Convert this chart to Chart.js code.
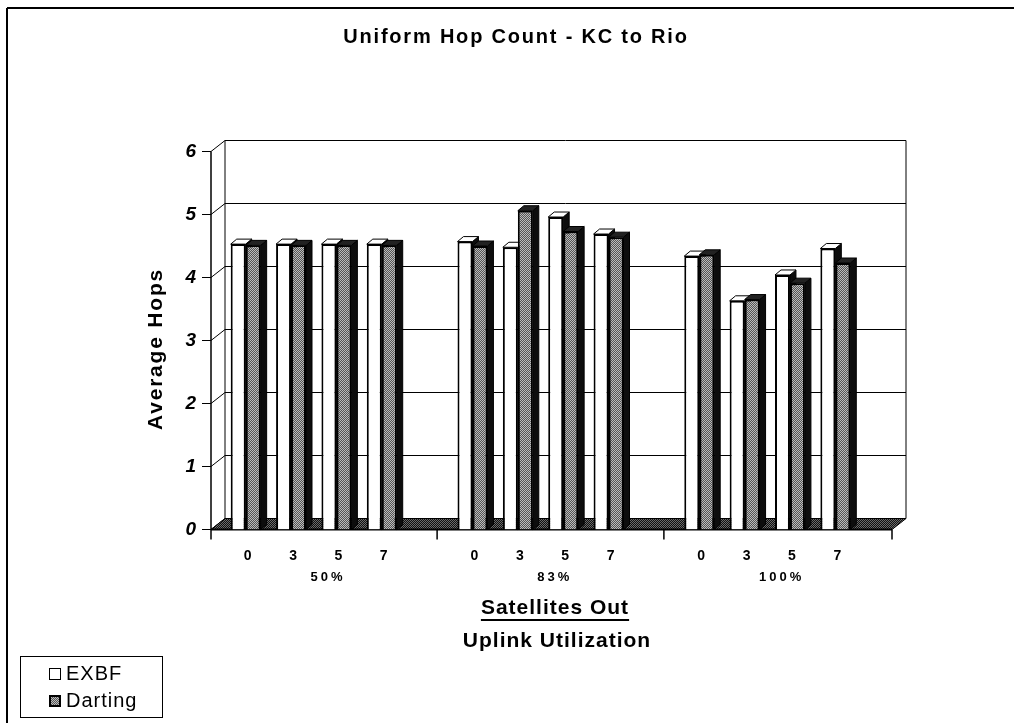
<!DOCTYPE html>
<html lang="en">
<head>
    <meta charset="UTF-8">
    <title>Uniform Hop Count - KC to Rio</title>
    <script src="https://cdn.jsdelivr.net/npm/chart.js"></script>
    <style>
        body { margin: 0; background: #fff; }
    </style>
</head>
<body>
    <canvas id="myChart" width="1014" height="723"></canvas>

    <script>
        // Satellites out, one blank slot between the utilization groups
        var categories = ['0', '3', '5', '7', '', '0', '3', '5', '7', '', '0', '3', '5', '7'];
        var groups = ['50%', '83%', '100%'];
        var exbf = [4.53, 4.53, 4.53, 4.53, null, 4.57, 4.48, 4.96, 4.69, null, 4.34, 3.63, 4.04, 4.46];
        var darting = [4.51, 4.51, 4.51, 4.51, null, 4.50, 5.06, 4.73, 4.64, null, 4.36, 3.65, 3.91, 4.23];
        var yTicks = [0, 1, 2, 3, 4, 5, 6];

        var FONT = '"Liberation Sans", Arial, sans-serif';

        // stipple fills like the scanned print
        function stipple(a, b) {
            var c = document.createElement('canvas');
            c.width = 2; c.height = 2;
            var g = c.getContext('2d');
            g.fillStyle = a; g.fillRect(0, 0, 2, 2);
            g.fillStyle = b; g.fillRect(0, 0, 1, 1); g.fillRect(1, 1, 1, 1);
            return g.createPattern(c, 'repeat');
        }
        var dartFill = stipple('#555555', '#bbbbbb');
        var floorFill = stipple('#111111', '#6a6a6a');

        function line(ctx, x1, y1, x2, y2) {
            ctx.beginPath(); ctx.moveTo(x1, y1); ctx.lineTo(x2, y2); ctx.stroke();
        }
        function poly(ctx, pts, fill, stroke) {
            ctx.beginPath();
            ctx.moveTo(pts[0][0], pts[0][1]);
            for (var i = 1; i < pts.length; i++) ctx.lineTo(pts[i][0], pts[i][1]);
            ctx.closePath();
            if (fill) { ctx.fillStyle = fill; ctx.fill(); }
            if (stroke) { ctx.strokeStyle = stroke; ctx.stroke(); }
        }

        // fake 3-D box: back wall, floor, gridlines and bar tops/sides
        var box3d = {
            id: 'box3d',
            beforeDatasetsDraw: function (chart) {
                var ctx = chart.ctx, a = chart.chartArea, x = chart.scales.x, y = chart.scales.y;
                var L = a.left - 12, R = a.right + 34;
                var B = y.getPixelForValue(0), T = y.getPixelForValue(6);
                var dx = 14, dy = -11;
                ctx.save();
                ctx.strokeStyle = '#000';
                ctx.lineWidth = 1;
                yTicks.forEach(function (v) {
                    var py = y.getPixelForValue(v);
                    line(ctx, L, py, L + dx, py + dy);
                    line(ctx, L + dx, py + dy, R + dx, py + dy);
                    line(ctx, L - 9, py, L, py);
                });
                line(ctx, L + dx, T + dy, L + dx, B + dy);
                line(ctx, R + dx, T + dy, R + dx, B + dy);
                ctx.lineWidth = 1.5;
                line(ctx, L, T, L, B);

                // floor
                ctx.lineWidth = 1;
                poly(ctx, [[L, B], [R, B], [R + dx, B + dy], [L + dx, B + dy]], floorFill, '#000');
                ctx.lineWidth = 2;
                line(ctx, L, B, R, B);
                ctx.lineWidth = 1.5;
                var ticksX = [L, x.getPixelForValue(4) + 10, x.getPixelForValue(9) + 10, R];
                ticksX.forEach(function (px) { line(ctx, px, B, px, B + 10); });

                // bar tops and right sides
                var bdx = 6, bdy = -5;
                ctx.lineWidth = 1;
                chart.data.datasets.forEach(function (ds, i) {
                    var meta = chart.getDatasetMeta(i);
                    meta.data.forEach(function (bar, j) {
                        if (ds.data[j] == null) return;
                        var l = bar.x - bar.width / 2, r = bar.x + bar.width / 2, t = bar.y;
                        poly(ctx, [[r, t], [r + bdx, t + bdy], [r + bdx, B + bdy], [r, B]], '#0d0d0d', '#000');
                        poly(ctx, [[l, t], [l + bdx, t + bdy], [r + bdx, t + bdy], [r, t]],
                            i === 0 ? '#fff' : '#222', '#000');
                    });
                });
                ctx.restore();
            },
            afterDraw: function (chart) {
                var ctx = chart.ctx, x = chart.scales.x, y = chart.scales.y;
                ctx.save();
                ctx.fillStyle = '#000';
                ctx.textBaseline = 'middle';

                // title
                ctx.textAlign = 'center';
                ctx.font = 'bold 20px ' + FONT;
                ctx.letterSpacing = '1.8px';
                ctx.fillText('Uniform Hop Count - KC to Rio', 516, 37);

                // y tick labels
                ctx.textAlign = 'right';
                ctx.font = 'italic bold 19px ' + FONT;
                ctx.letterSpacing = '0px';
                yTicks.forEach(function (v) {
                    ctx.fillText(String(v), 196, y.getPixelForValue(v));
                });

                // y title
                ctx.save();
                ctx.translate(156, 349);
                ctx.rotate(-Math.PI / 2);
                ctx.textAlign = 'center';
                ctx.font = 'bold 21px ' + FONT;
                ctx.letterSpacing = '1.8px';
                ctx.fillText('Average Hops', 0, 0);
                ctx.restore();

                // x category labels
                ctx.textAlign = 'center';
                ctx.font = 'bold 14px ' + FONT;
                ctx.letterSpacing = '0px';
                categories.forEach(function (c, j) {
                    if (c) ctx.fillText(c, x.getPixelForValue(j) + 2, 556);
                });
                ctx.font = 'bold 13px ' + FONT;
                ctx.letterSpacing = '3px';
                groups.forEach(function (g, k) {
                    var p = 0.25 * x.getPixelForValue(k * 5 + 1) + 0.75 * x.getPixelForValue(k * 5 + 2);
                    ctx.fillText(g, p + 3, 577);
                });

                // x titles
                ctx.font = 'bold 21px ' + FONT;
                ctx.letterSpacing = '1px';
                ctx.fillText('Satellites Out', 555, 608);
                var w = ctx.measureText('Satellites Out').width;
                ctx.lineWidth = 2;
                line(ctx, 555 - w / 2, 620, 555 + w / 2, 620);
                ctx.fillText('Uplink Utilization', 557, 641);

                // legend
                ctx.lineWidth = 1;
                ctx.strokeStyle = '#000';
                ctx.strokeRect(20.5, 656.5, 142, 61);
                ctx.fillStyle = '#fff';
                ctx.fillRect(49, 668, 11, 11);
                ctx.strokeRect(49.5, 668.5, 11, 11);
                ctx.fillStyle = dartFill;
                ctx.fillRect(49, 695, 12, 12);
                ctx.lineWidth = 2;
                ctx.strokeStyle = '#000';
                ctx.strokeRect(50, 696, 10, 10);
                ctx.fillStyle = '#000';
                ctx.textAlign = 'left';
                ctx.font = '20px ' + FONT;
                ctx.letterSpacing = '1px';
                ctx.fillText(chart.data.datasets[0].label, 66, 674);
                ctx.fillText(chart.data.datasets[1].label, 66, 701);

                // page frame
                ctx.lineWidth = 2;
                line(ctx, 7, 8, 1014, 8);
                line(ctx, 7, 8, 7, 723);
                ctx.restore();
            }
        };

        var ctx = document.getElementById('myChart').getContext('2d');

        var myChart = new Chart(ctx, {
            type: 'bar',
            data: {
                labels: categories,
                datasets: [{
                    label: 'EXBF',
                    data: exbf,
                    backgroundColor: '#ffffff',
                    borderColor: '#000000',
                    borderWidth: 2,
                    categoryPercentage: 0.66,
                    barPercentage: 1.0
                }, {
                    label: 'Darting',
                    data: darting,
                    backgroundColor: dartFill,
                    borderColor: '#000000',
                    borderWidth: 2,
                    categoryPercentage: 0.66,
                    barPercentage: 1.0
                }]
            },
            options: {
                responsive: false,
                animation: false,
                layout: {
                    padding: { left: 223, right: 156, top: 151.5, bottom: 193.5 }
                },
                scales: {
                    x: { display: false },
                    y: { display: false, min: 0, max: 6 }
                },
                plugins: {
                    legend: { display: false },
                    title: { display: false },
                    tooltip: { enabled: false }
                }
            },
            plugins: [box3d]
        });
    </script>
</body>
</html>
